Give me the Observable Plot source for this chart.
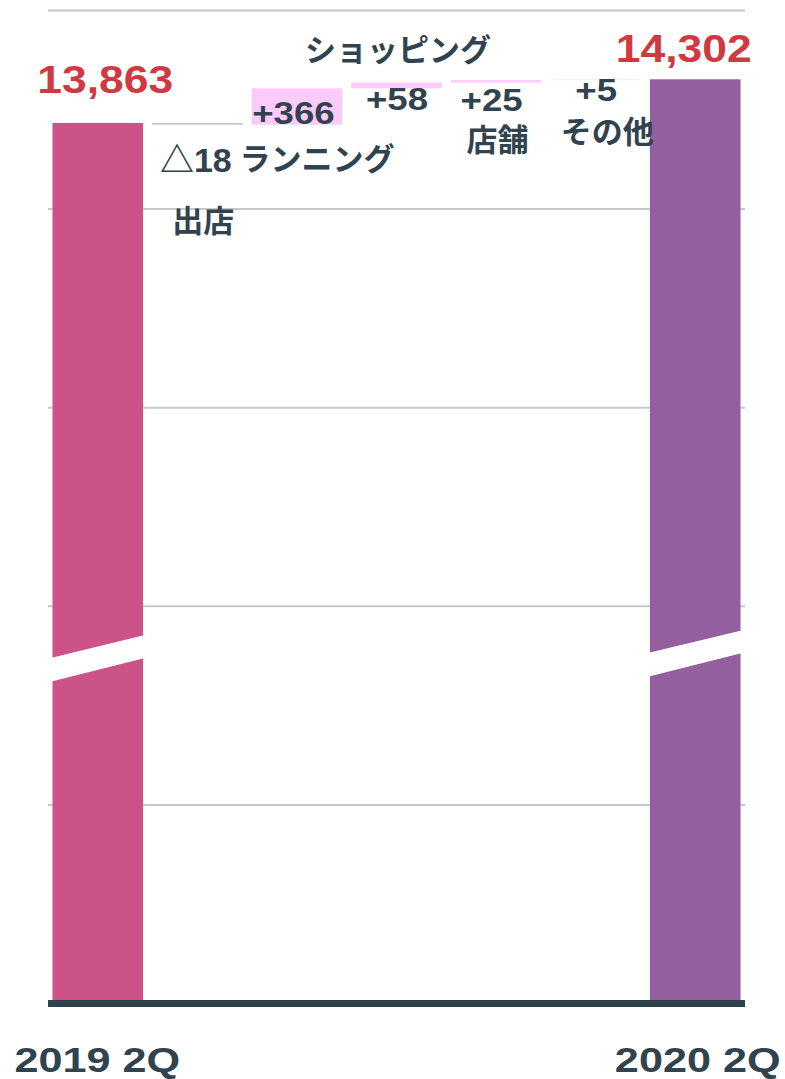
<!DOCTYPE html>
<html><head><meta charset="utf-8">
<script src="https://cdn.jsdelivr.net/npm/d3@7"></script>
<script src="https://cdn.jsdelivr.net/npm/@observablehq/plot@0.6"></script>
<style>
html,body{margin:0;padding:0;background:#fff;}
</style>
</head><body><div id="chart"></div>
<script>
// ---- data ----
const categories = ["2019 2Q", "出店", "ランニング", "ショッピング", "店舗", "その他", "2020 2Q"];
const startValue = 13863;
const endValue = 14302;
const deltas = [-18, 366, 58, 25, 5];
const deltaLabels = ["△18", "+366", "+58", "+25", "+5"];
const deltaNames = ["出店", "ランニング", "ショッピング", "店舗", "その他"];
const totalLabels = ["13,863", "14,302"];
const axisLabels = ["2019 2Q", "2020 2Q"];
const gridValues = [7000, 9000, 11000, 13000, 15000];
const baseValue = 5000;
// axis-break bands on the two total bars: [left edge, right edge] values
const breakBars = [0, 6];
const breakLower = [[8243, 8477], [8293, 8528]];
const breakUpper = [[8471, 8699], [8522, 8746]];

// ---- styles ----
const LATIN = "'Liberation Sans', Arial, 'Noto Sans CJK JP', sans-serif";
const JP = "'Noto Sans CJK JP', 'Noto Sans CJK SC', sans-serif";
const INK = "#30434e";
const RED = "#cf3a42";
const startColor = "#cb5388";
const endColor = "#935f9f";
const posColor = "#fccbfc";
const negColor = "#c6c6c6";

// ---- waterfall table ----
const bars = [];
let running = startValue;
bars.push({i: 0, cat: categories[0], y1: baseValue, y2: startValue, color: startColor});
deltas.forEach((d, k) => {
  bars.push({i: k + 1, cat: categories[k + 1], y1: running, y2: running + d, color: d < 0 ? negColor : posColor});
  running += d;
});
bars.push({i: 6, cat: categories[6], y1: baseValue, y2: endValue, color: endColor});
const half = 0.455;

const breakPts = [];
breakBars.forEach((b, k) => {
  breakPts.push({bar: k, x: b - half - 0.01, lo: breakLower[k][0], hi: breakUpper[k][0]});
  breakPts.push({bar: k, x: b + half + 0.01, lo: breakLower[k][1], hi: breakUpper[k][1]});
});

function lbl(i, yv, text, o) {
  return Plot.text([{i, y: yv, t: text}], {
    x: "i", y: "y", text: "t",
    dx: o.dx || 0, dy: o.dy || 0,
    fontSize: o.size || 31, fontWeight: "bold",
    fontFamily: o.font || LATIN, fill: o.fill || INK,
    textAnchor: o.anchor || "middle", lineAnchor: "bottom",
    ariaDescription: o.sx ? "sx:" + o.sx : undefined
  });
}
const lowOf = k => Math.min(bars[k].y1, bars[k].y2);
const topOf = k => Math.max(bars[k].y1, bars[k].y2);

const marks = [
  Plot.ruleY(gridValues, {stroke: "#c8c8c8", strokeWidth: 2}),
  Plot.rect(bars, {x1: d => d.i - half, x2: d => d.i + half, y1: "y1", y2: "y2", fill: "color"}),
  Plot.areaY(breakPts, {x: "x", y1: "lo", y2: "hi", z: "bar", fill: "white", stroke: "white", strokeWidth: 1}),
  Plot.ruleY([baseValue], {stroke: "#2f414b", strokeWidth: 7}),
  // totals
  lbl(0, topOf(0), totalLabels[0], {dx: 7, dy: -30, size: 39, fill: RED, sx: 1.14}),
  lbl(6, topOf(6), totalLabels[1], {dx: -12, dy: -18, size: 39, fill: RED, sx: 1.14}),
  // axis labels
  lbl(0, baseValue, axisLabels[0], {dx: -1, dy: 68, size: 36, sx: 1.2}),
  lbl(6, baseValue, axisLabels[1], {dx: 2, dy: 68, size: 36, sx: 1.2}),
  // deltas
  lbl(1, lowOf(1), deltaLabels[0], {dx: -2, dy: 47, size: 34}),
  lbl(2, lowOf(2), deltaLabels[1], {dx: -4, dy: -1, size: 31, sx: 1.18}),
  lbl(3, lowOf(3), deltaLabels[2], {dx: 0, dy: 21.5, size: 31, sx: 1.18}),
  lbl(4, lowOf(4), deltaLabels[3], {dx: -5, dy: 28, size: 31, sx: 1.18}),
  lbl(5, lowOf(5), deltaLabels[4], {dx: 0, dy: 20.5, size: 31, sx: 1.18}),
  // names
  lbl(1, lowOf(1), deltaNames[0], {dx: 5.5, dy: 107, size: 31, font: JP}),
  lbl(2, lowOf(2), deltaNames[1], {dx: -58, dy: 45, size: 31, font: JP, anchor: "start"}),
  lbl(3, lowOf(3), deltaNames[2], {dx: 1, dy: -28, size: 31, font: JP}),
  lbl(4, lowOf(4), deltaNames[3], {dx: 1, dy: 68, size: 31, font: JP}),
  lbl(5, lowOf(5), deltaNames[4], {dx: 11, dy: 62, size: 31, font: JP})
];

const chart = Plot.plot({
  width: 785, height: 1079,
  marginLeft: 48, marginRight: 40, marginTop: 10, marginBottom: 76,
  x: {domain: [-0.5, 6.5], axis: null},
  y: {domain: [baseValue, 15000], axis: null},
  color: {type: "identity"},
  style: {background: "white", overflow: "visible"},
  marks
});
chart.querySelectorAll('g[aria-description^="sx:"]').forEach(g => {
  const s = g.getAttribute("aria-description").slice(3);
  g.querySelectorAll("text").forEach(t => {
    t.setAttribute("transform", (t.getAttribute("transform") || "") + ` scale(${s},1)`);
  });
});
document.getElementById("chart").appendChild(chart);
</script>
</body></html>
